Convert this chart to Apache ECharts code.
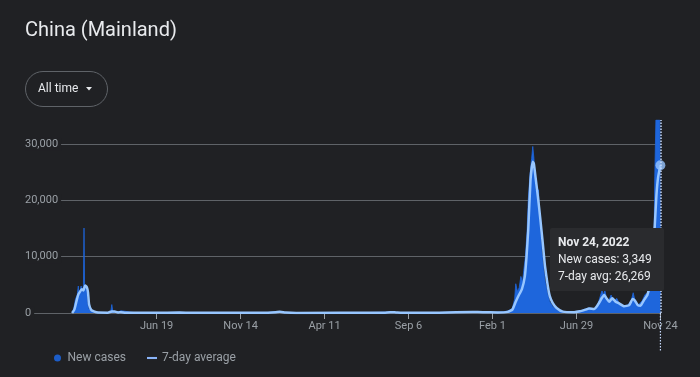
<!DOCTYPE html>
<html><head><meta charset="utf-8">
<script src="https://cdn.jsdelivr.net/npm/echarts@6/dist/echarts.min.js"></script>
<style>html,body{margin:0;padding:0;background:#202124;}#c{width:700px;height:377px;}</style>
</head><body><div id="c"></div>
<script>
const caseDates = ['2020-01-22','2020-01-25','2020-01-28','2020-01-31','2020-02-02','2020-02-03','2020-02-05','2020-02-07','2020-02-09','2020-02-11','2020-02-12','2020-02-13','2020-02-15','2020-02-17','2020-02-18','2020-02-20','2020-02-24','2020-03-01','2020-03-10','2020-03-25','2020-03-30','2020-04-01','2020-04-03','2020-04-12','2020-04-17','2020-04-20','2020-05-15','2020-06-13','2020-07-28','2020-08-10','2020-10-12','2020-12-20','2021-01-10','2021-01-20','2021-01-28','2021-03-01','2021-06-01','2021-07-28','2021-08-05','2021-08-20','2021-10-25','2021-12-25','2022-01-10','2022-02-01','2022-02-20','2022-03-01','2022-03-08','2022-03-12','2022-03-14','2022-03-17','2022-03-20','2022-03-23','2022-03-26','2022-03-28','2022-03-31','2022-04-03','2022-04-05','2022-04-08','2022-04-11','2022-04-13','2022-04-15','2022-04-18','2022-04-21','2022-04-23','2022-04-26','2022-04-29','2022-05-02','2022-05-05','2022-05-09','2022-05-13','2022-05-18','2022-05-25','2022-06-05','2022-06-20','2022-07-05','2022-07-15','2022-07-22','2022-08-01','2022-08-06','2022-08-10','2022-08-13','2022-08-16','2022-08-18','2022-08-21','2022-08-25','2022-08-29','2022-09-03','2022-09-08','2022-09-13','2022-09-20','2022-09-27','2022-10-03','2022-10-07','2022-10-11','2022-10-17','2022-10-23','2022-10-28','2022-11-01','2022-11-04','2022-11-07','2022-11-10','2022-11-13','2022-11-14','2022-11-15','2022-11-16','2022-11-23','2022-11-24'];
const caseValues = [0,800,2500,3200,4800,3000,4000,4800,3400,4900,15100,5000,4600,3800,1800,800,400,150,60,80,100,1500,120,150,400,50,20,50,120,40,50,30,150,260,100,20,30,150,200,40,80,200,200,100,200,400,800,2500,5200,3800,4500,6500,5500,7500,10000,14500,20000,24500,27500,29600,27500,22000,21000,21900,16000,11000,8000,5500,3500,2000,1200,600,200,150,350,700,900,700,1600,3000,4000,3200,4100,2500,2200,3200,2000,2600,1600,1300,1400,2000,3600,1800,1500,2200,3300,3500,4500,7000,10500,14800,24200,24200,34300,34300,3349];

const avgDates = ['2020-01-22','2020-01-26','2020-01-30','2020-02-02','2020-02-05','2020-02-08','2020-02-11','2020-02-14','2020-02-17','2020-02-19','2020-02-21','2020-02-25','2020-03-05','2020-03-25','2020-04-01','2020-04-06','2020-04-12','2020-04-17','2020-04-25','2020-06-15','2020-07-30','2020-08-20','2020-12-25','2021-01-15','2021-01-22','2021-02-01','2021-02-20','2021-07-25','2021-08-05','2021-08-15','2021-09-01','2021-10-30','2021-12-28','2022-01-15','2022-02-10','2022-02-28','2022-03-08','2022-03-14','2022-03-18','2022-03-25','2022-03-30','2022-04-02','2022-04-05','2022-04-09','2022-04-13','2022-04-15','2022-04-18','2022-04-22','2022-04-26','2022-05-01','2022-05-04','2022-05-07','2022-05-10','2022-05-13','2022-05-18','2022-05-25','2022-06-05','2022-06-25','2022-07-05','2022-07-15','2022-07-21','2022-07-30','2022-08-04','2022-08-09','2022-08-13','2022-08-17','2022-08-21','2022-08-26','2022-08-31','2022-09-06','2022-09-12','2022-09-21','2022-09-30','2022-10-06','2022-10-10','2022-10-15','2022-10-20','2022-10-26','2022-11-01','2022-11-05','2022-11-09','2022-11-12','2022-11-14','2022-11-17','2022-11-20','2022-11-24'];
const avgValues = [0,600,2200,3300,3800,4200,4000,4900,4600,3700,1500,500,120,60,280,250,100,150,30,30,100,30,40,150,220,100,20,60,150,100,30,60,180,150,100,200,600,2000,2900,4300,6500,10000,14800,23600,26900,26500,24000,20700,17000,12000,8800,6500,4500,3000,1800,900,250,150,300,600,800,700,1200,2000,2700,3200,2600,2000,2600,2000,1700,1200,1400,2500,2200,1400,1300,2300,3200,5000,9000,13000,15500,21000,24200,26269];

const tickDates = ['2020-06-19','2020-11-14','2021-04-11','2021-09-06','2022-02-01','2022-06-29','2022-11-24'];
const tickLabels = ['Jun 19','Nov 14','Apr 11','Sep 6','Feb 1','Jun 29','Nov 24'];
const yTicks = [0,10000,20000,30000];
const yLabels = ['0','10,000','20,000','30,000'];

const FONT = 'Roboto, "Noto Sans", Arial, sans-serif';
const START = Date.UTC(2020,0,22);
function dayIndex(s){const p=s.split('-').map(Number);return Math.round((Date.UTC(p[0],p[1]-1,p[2])-START)/86400000);}
const MONTHS=['Jan','Feb','Mar','Apr','May','Jun','Jul','Aug','Sep','Oct','Nov','Dec'];
function longDate(s){const p=s.split('-').map(Number);return MONTHS[p[1]-1]+' '+p[2]+', '+p[0];}
function fmt(n){return n.toLocaleString('en-US');}

const caseData = caseDates.map((d,i)=>[dayIndex(d),caseValues[i]]);
const avgData = avgDates.map((d,i)=>[dayIndex(d),avgValues[i]]);
const tickDays = tickDates.map(dayIndex);
const lastIdx = avgData.length-1;
const lastDay = avgData[lastIdx][0];

const chart = echarts.init(document.getElementById('c'),null,{renderer:'canvas'});
const option = {
  backgroundColor:'#202124',
  animation:false,
  textStyle:{fontFamily:FONT},
  title:{text:'China (Mainland)',left:25,top:21,padding:0,textStyle:{color:'#e8eaed',fontSize:20,fontWeight:'normal',fontFamily:FONT}},
  grid:{left:25,right:39,top:120,bottom:64},
  legend:{left:49,top:347,itemWidth:10,itemHeight:7,itemGap:21,selectedMode:false,
    textStyle:{color:'#9aa0a6',fontSize:12,fontFamily:FONT},
    data:[{name:'New cases',icon:'circle'},{name:'7-day average',icon:'path://M0,0h12v2.5h-12z'}]},
  tooltip:{trigger:'axis',triggerOn:'none',alwaysShowContent:true,position:[550,228],transitionDuration:0,
    backgroundColor:'#2a2b2e',borderWidth:0,padding:[6,12,6,8],
    textStyle:{color:'#e8eaed',fontSize:12,fontFamily:FONT},
    extraCssText:'box-shadow:none;border-radius:2px;line-height:17px;',
    axisPointer:{type:'line',snap:true,lineStyle:{color:'#c6dafc',type:'dotted',width:1.5}},
    formatter:function(){
      return '<b>'+longDate(caseDates[caseDates.length-1])+'</b><br>New cases: '+fmt(caseValues[caseValues.length-1])+'<br>7-day avg: '+fmt(avgValues[avgValues.length-1]);
    }},
  xAxis:{type:'value',min:-83,max:1038,axisLine:{show:false},splitLine:{show:false},
    axisTick:{show:true,customValues:tickDays,length:6,lineStyle:{color:'#9aa0a6'}},
    axisLabel:{customValues:tickDays,formatter:function(v){const i=tickDays.indexOf(v);return i>=0?tickLabels[i]:'';},color:'#9aa0a6',fontSize:11,margin:8,fontFamily:FONT}},
  yAxis:{type:'value',min:0,max:34300,interval:10000,axisLine:{show:false},axisTick:{show:false},
    splitLine:{show:true,showMaxLine:false,lineStyle:{color:'#5f6368',width:1}},
    axisLabel:{inside:true,margin:0,align:'left',verticalAlign:'middle',color:'#9aa0a6',fontSize:11,fontFamily:FONT,
      backgroundColor:'#202124',padding:[1,3,1,0],showMaxLabel:false,
      formatter:function(v){const i=yTicks.indexOf(v);return i>=0?yLabels[i]:'';}}},
  series:[
    {name:'New cases',type:'line',data:caseData,symbol:'none',z:2,
      lineStyle:{color:'#1c5dc8',width:0.8},itemStyle:{color:'#1c5dc8'},areaStyle:{color:'#1c5dc8',opacity:1}},
    {name:'7-day average',type:'line',data:avgData,symbol:'none',z:3,smooth:0.15,
      lineStyle:{color:'#8ab4f8',width:2.5},itemStyle:{color:'#8ab4f8'}},
    {name:'highlight',type:'scatter',data:[[lastDay,avgValues[lastIdx]]],symbolSize:9,z:5,silent:true,
      itemStyle:{color:'#8ab4f8'}}
  ]
};
chart.setOption(option);
chart.dispatchAction({type:'showTip',seriesIndex:1,dataIndex:lastIdx});
const px = chart.convertToPixel({xAxisIndex:0},lastDay);
const y0 = chart.convertToPixel({yAxisIndex:0},0);
chart.setOption({graphic:[
  {type:'rect',shape:{x:25.5,y:71.5,width:82,height:35,r:17.5},style:{fill:'none',stroke:'#5f6368',lineWidth:1}},
  {type:'text',x:38,y:89,style:{text:'All time',fill:'#e8eaed',font:'12px '+FONT,textVerticalAlign:'middle'}},
  {type:'polygon',shape:{points:[[86,87],[92,87],[89,90.5]]},style:{fill:'#e8eaed'}},
  {type:'line',shape:{x1:px,y1:y0,x2:px,y2:352},style:{stroke:'#c6dafc',lineWidth:1.2,lineDash:[1.5,1.5]},z:1}
]});
</script></body></html>
